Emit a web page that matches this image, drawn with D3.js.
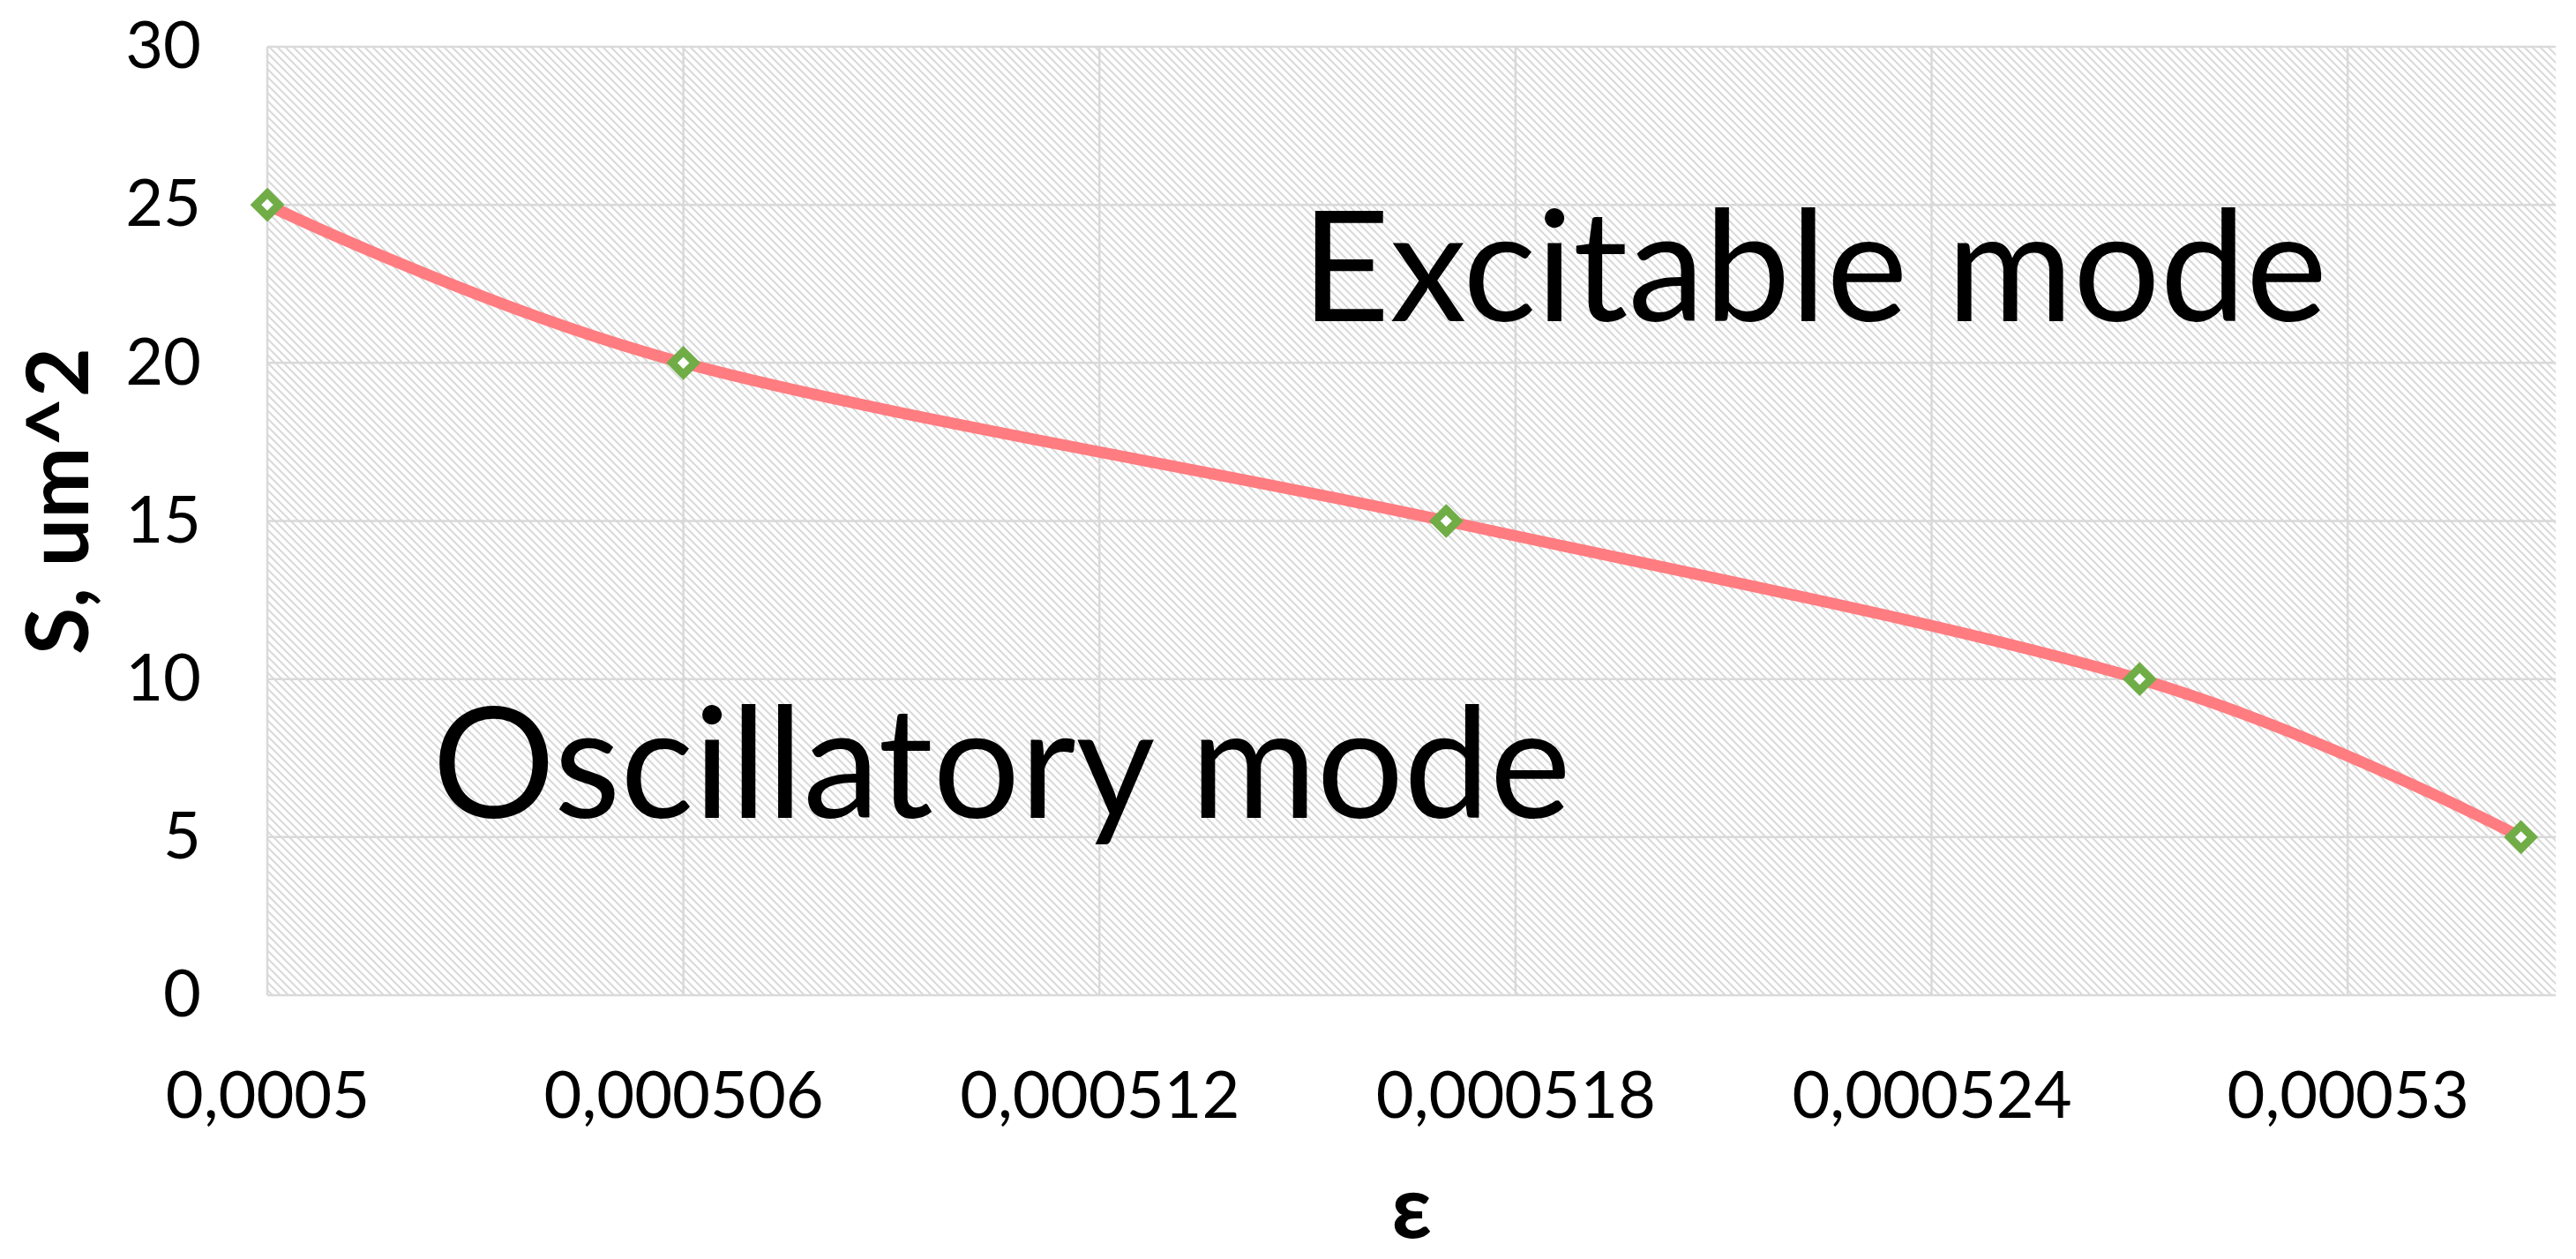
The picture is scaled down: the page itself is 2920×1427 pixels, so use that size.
<!DOCTYPE html>
<html lang="en">
<head>
<meta charset="UTF-8">
<title>S vs epsilon</title>
<script src="https://d3js.org/d3.v7.min.js"></script>
<style>
    body { margin: 0; background: #fff; }
    svg { display: block; }
    text { font-family: Lato, "Open Sans", "DejaVu Sans", sans-serif; fill: #000; }
</style>
</head>
<body>
<script>
    // data
    const epsValues = [0.0005, 0.000506, 0.000517, 0.000527, 0.0005325];
    const sValues = [25, 20, 15, 10, 5];
    const xTicks = [0.0005, 0.000506, 0.000512, 0.000518, 0.000524, 0.00053];
    const xTickLabels = ["0,0005", "0,000506", "0,000512", "0,000518", "0,000524", "0,00053"];
    const yTicks = [0, 5, 10, 15, 20, 25, 30];
    const regionLabels = ["Excitable mode", "Oscillatory mode"];

    const width = 2920, height = 1427;
    const margin = { top: 53, right: 23, bottom: 299, left: 303 };

    const svg = d3.select("body").append("svg")
        .attr("width", width)
        .attr("height", height);

    // hatch fill of the plot area
    const pat = svg.append("defs").append("pattern")
        .attr("id", "hatch")
        .attr("patternUnits", "userSpaceOnUse")
        .attr("width", 9)
        .attr("height", 9);
    pat.append("path")
        .attr("d", "M0,0L9,9M-2,7L2,11M7,-2L11,2")
        .attr("stroke", "#d9d9d9")
        .attr("stroke-width", 2);

    const x = d3.scaleLinear()
        .domain([0.0005, 0.000533])
        .range([margin.left, width - margin.right]);

    const y = d3.scaleLinear()
        .domain([0, 30])
        .range([height - margin.bottom, margin.top]);

    svg.append("rect")
        .attr("x", margin.left)
        .attr("y", margin.top)
        .attr("width", width - margin.left - margin.right)
        .attr("height", height - margin.top - margin.bottom)
        .attr("fill", "url(#hatch)");

    // gridlines
    svg.append("g")
        .selectAll("line")
        .data(yTicks)
        .join("line")
        .attr("x1", margin.left)
        .attr("x2", width - margin.right)
        .attr("y1", d => y(d))
        .attr("y2", d => y(d))
        .attr("stroke", "#d9d9d9")
        .attr("stroke-width", 2.5);

    svg.append("g")
        .selectAll("line")
        .data(xTicks)
        .join("line")
        .attr("x1", d => x(d))
        .attr("x2", d => x(d))
        .attr("y1", margin.top)
        .attr("y2", height - margin.bottom)
        .attr("stroke", "#d9d9d9")
        .attr("stroke-width", 2.5);

    // axes (labels only)
    const yAxis = svg.append("g")
        .attr("transform", `translate(${margin.left},0)`)
        .call(d3.axisLeft(y).tickValues(yTicks).tickSize(0).tickPadding(75));
    yAxis.select(".domain").remove();
    yAxis.selectAll("text")
        .style("font-size", "74px")
        .style("font-family", "Lato, 'Open Sans', sans-serif");

    const xAxis = svg.append("g")
        .attr("transform", `translate(0,${height - margin.bottom})`)
        .call(d3.axisBottom(x).tickValues(xTicks).tickFormat((d, i) => xTickLabels[i]).tickSize(0).tickPadding(86));
    xAxis.select(".domain").remove();
    xAxis.selectAll("text")
        .style("font-size", "74px")
        .style("font-family", "Lato, 'Open Sans', sans-serif");

    // axis titles
    svg.append("text")
        .attr("transform", `translate(100,568) rotate(-90)`)
        .attr("text-anchor", "middle")
        .style("font-size", "97px")
        .style("font-weight", "bold")
        .text("S, um^2");

    svg.append("text")
        .attr("x", (margin.left + width - margin.right) / 2)
        .attr("y", 1403)
        .attr("text-anchor", "middle")
        .style("font-size", "100px")
        .style("font-weight", "bold")
        .text("ε");

    // region labels
    svg.append("text")
        .attr("x", 1475)
        .attr("y", 364)
        .style("font-size", "174px")
        .text(regionLabels[0]);

    svg.append("text")
        .attr("x", 490)
        .attr("y", 927)
        .style("font-size", "174px")
        .text(regionLabels[1]);

    // smoothed line
    const pts = epsValues.map((e, i) => [e, sValues[i]]);
    const line = d3.line()
        .x(d => x(d[0]))
        .y(d => y(d[1]))
        .curve(d3.curveCardinal.tension(0));

    svg.append("path")
        .datum(pts)
        .attr("d", line)
        .attr("fill", "none")
        .attr("stroke", "#ff7c80")
        .attr("stroke-width", 13)
        .attr("stroke-linecap", "round");

    // diamond markers
    svg.append("g")
        .selectAll("path")
        .data(pts)
        .join("path")
        .attr("transform", d => `translate(${x(d[0])},${y(d[1])})`)
        .attr("d", "M0,-13L13,0L0,13L-13,0Z")
        .attr("fill", "#fff")
        .attr("stroke", "#70ad47")
        .attr("stroke-width", 9)
        .attr("stroke-linejoin", "miter");
</script>
</body>
</html>
